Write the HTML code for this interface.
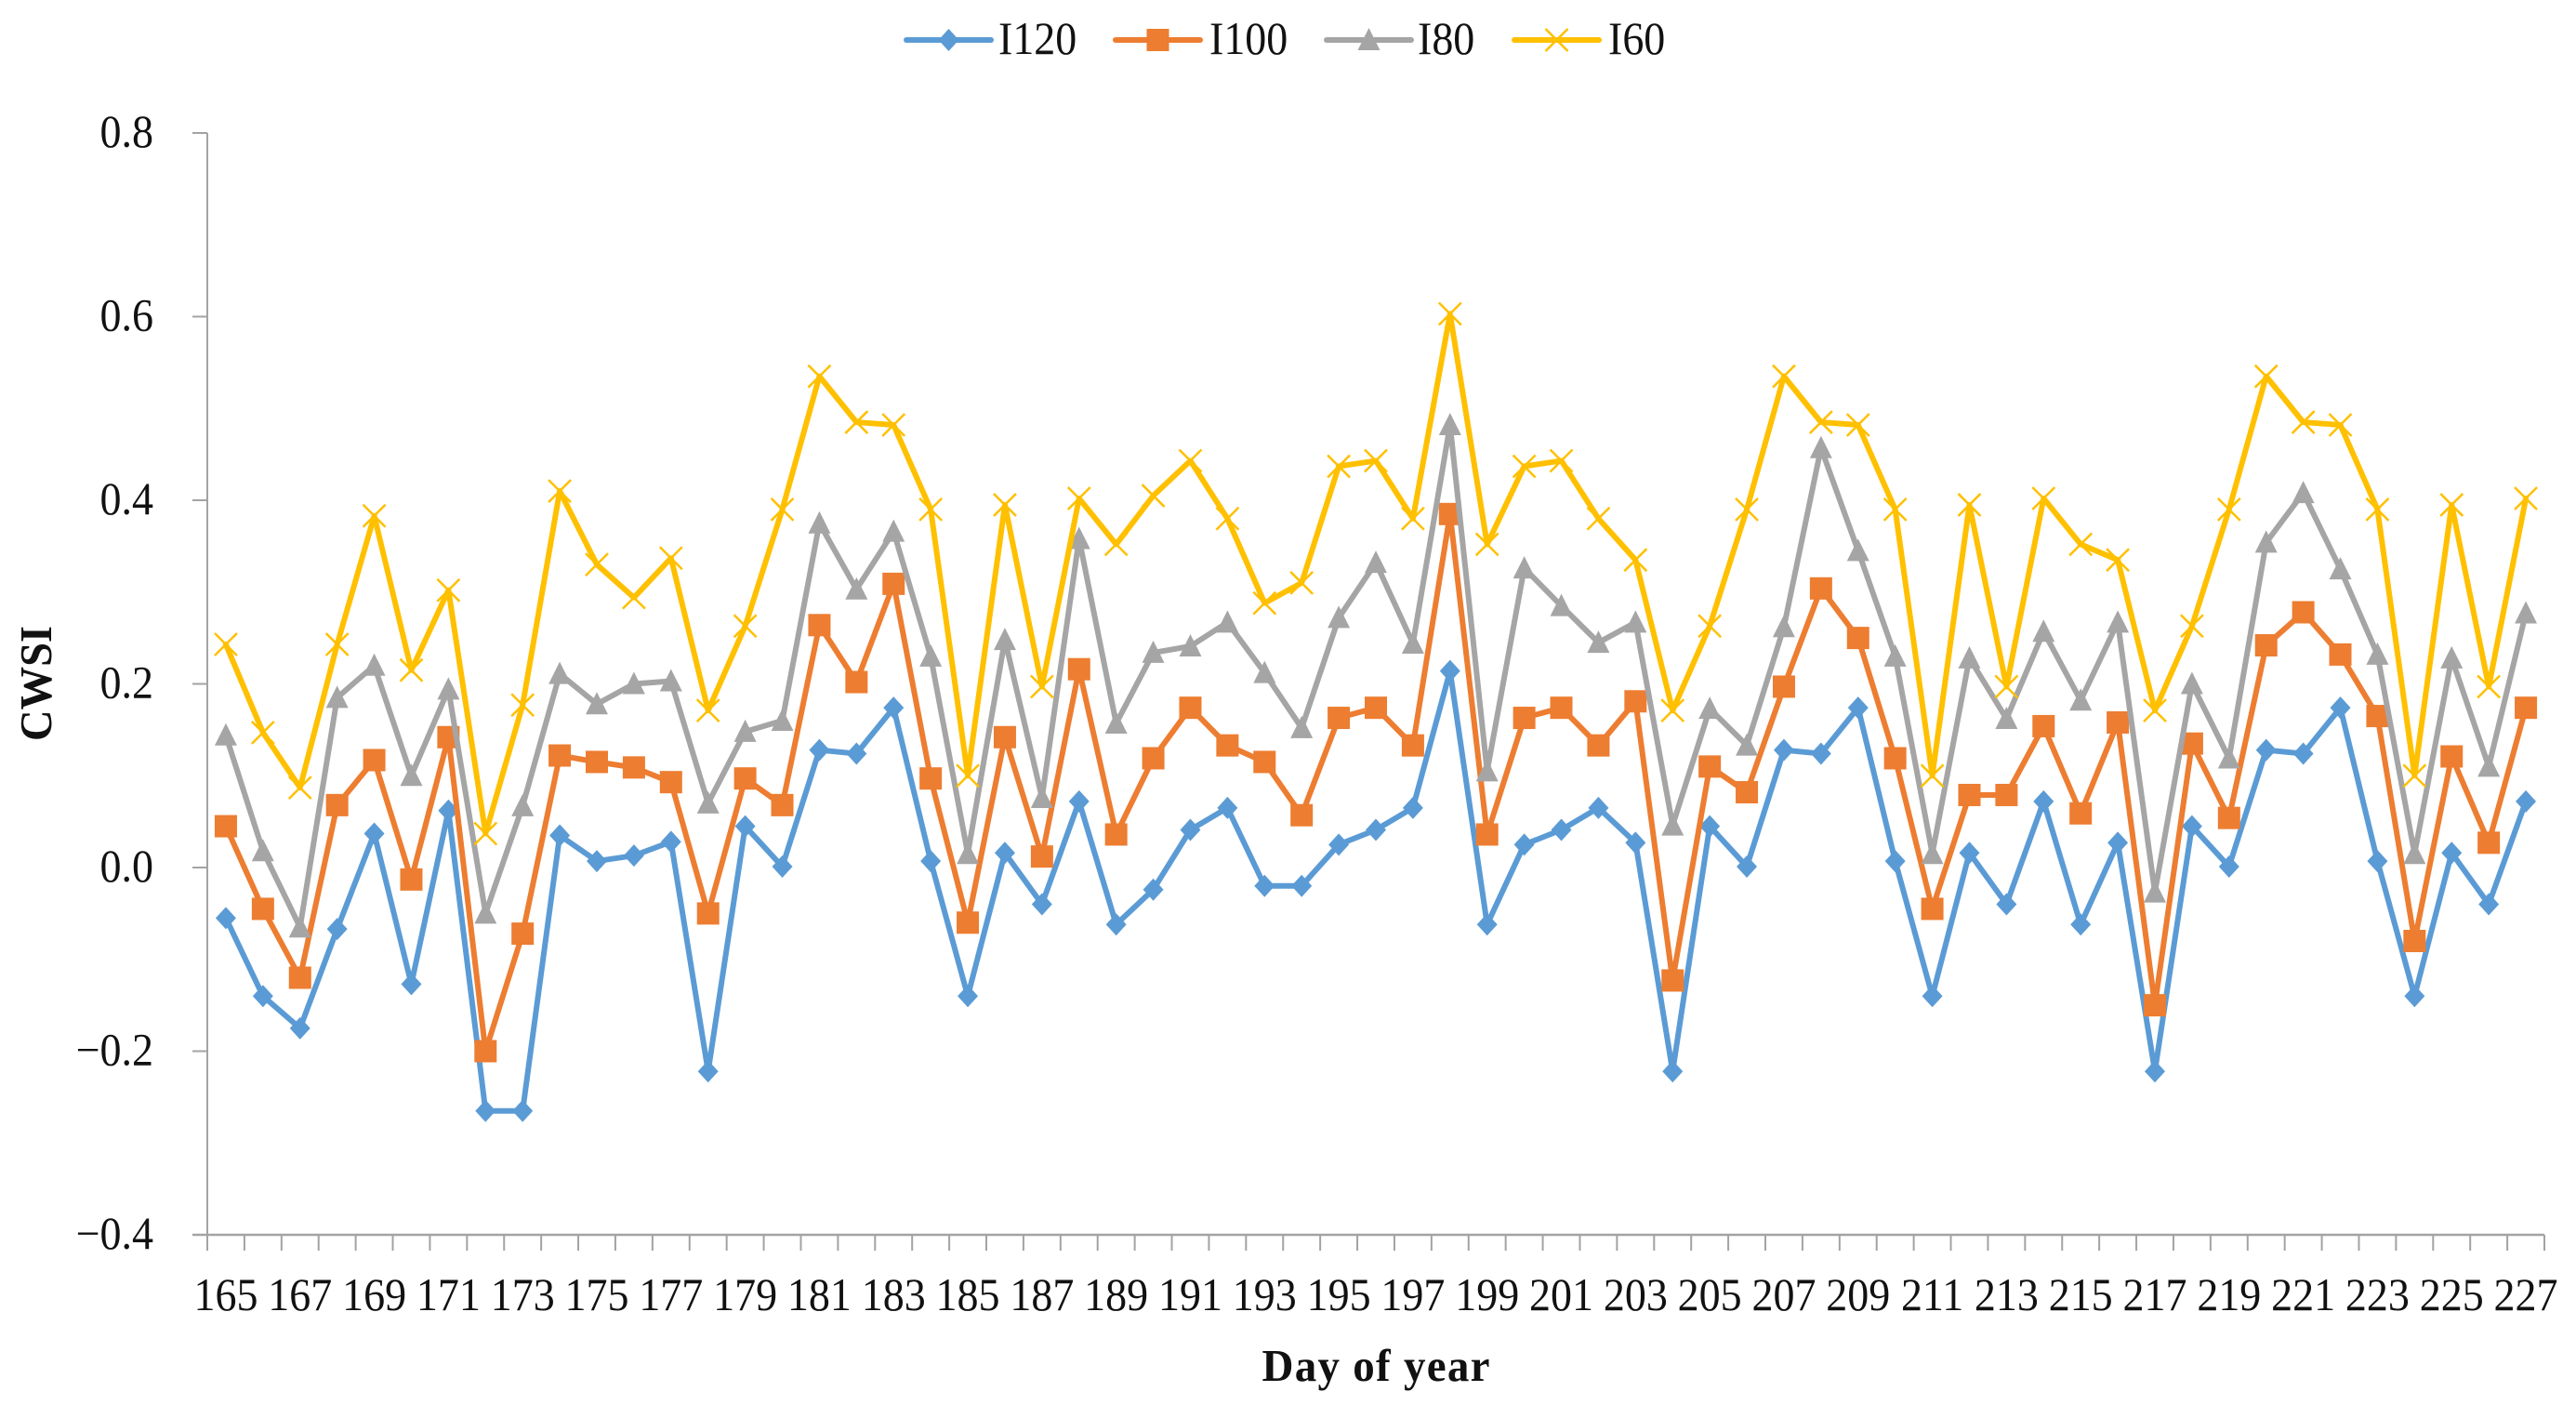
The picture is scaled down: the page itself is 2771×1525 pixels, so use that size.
<!DOCTYPE html>
<html lang="en">
<head>
<meta charset="utf-8">
<title>CWSI by day of year</title>
<style>
html,body{margin:0;padding:0;background:#fff;}
svg{display:block;}
text{font-family:"Liberation Serif",serif;fill:#111;font-size:46px;}
</style>
</head>
<body>
<svg id="chart" xmlns="http://www.w3.org/2000/svg" width="2771" height="1525" viewBox="0 0 2771 1525">
<rect width="2771" height="1525" fill="#ffffff"/>
<g id="axes"></g>
<g id="series"></g>
<text transform="translate(1480,1485) scale(1,1.03)" text-anchor="middle" textLength="245" lengthAdjust="spacing" style="font-size:47px;font-weight:bold">Day of year</text>
<text transform="translate(55,735) rotate(-90) scale(1,1.03)" text-anchor="middle" textLength="124" lengthAdjust="spacingAndGlyphs" style="font-size:47px;font-weight:bold">CWSI</text>
<g id="legend"></g>
</svg>
<script>
const days = [165,166,167,168,169,170,171,172,173,174,175,176,177,178,179,180,181,182,183,184,185,186,187,188,189,190,191,192,193,194,195,196,197,198,199,200,201,202,203,204,205,206,207,208,209,210,211,212,213,214,215,216,217,218,219,220,221,222,223,224,225,226,227];
const i120Values = [-0.055,-0.14,-0.175,-0.067,0.037,-0.127,0.062,-0.265,-0.265,0.035,0.007,0.013,0.028,-0.222,0.045,0.001,0.128,0.124,0.174,0.007,-0.14,0.016,-0.04,0.072,-0.062,-0.024,0.041,0.065,-0.02,-0.02,0.025,0.041,0.065,0.214,-0.062,0.025,0.041,0.065,0.027,-0.222,0.045,0.001,0.128,0.124,0.174,0.007,-0.14,0.016,-0.04,0.072,-0.062,0.027,-0.222,0.045,0.001,0.128,0.124,0.174,0.007,-0.14,0.016,-0.04,0.072];
const i100Values = [0.045,-0.045,-0.12,0.068,0.117,-0.013,0.142,-0.2,-0.072,0.122,0.115,0.109,0.093,-0.05,0.097,0.068,0.264,0.202,0.309,0.097,-0.06,0.142,0.012,0.216,0.036,0.119,0.174,0.133,0.115,0.057,0.163,0.174,0.133,0.385,0.036,0.163,0.174,0.133,0.181,-0.123,0.11,0.082,0.197,0.304,0.25,0.119,-0.045,0.079,0.079,0.154,0.059,0.158,-0.15,0.135,0.054,0.242,0.278,0.232,0.165,-0.08,0.121,0.027,0.174];
const i80Values = [0.144,0.018,-0.065,0.185,0.22,0.1,0.194,-0.05,0.067,0.211,0.178,0.2,0.203,0.07,0.148,0.16,0.375,0.303,0.366,0.23,0.015,0.248,0.076,0.358,0.157,0.234,0.241,0.267,0.212,0.152,0.272,0.332,0.244,0.482,0.105,0.326,0.285,0.245,0.267,0.046,0.173,0.133,0.262,0.457,0.345,0.23,0.015,0.228,0.162,0.257,0.182,0.267,-0.027,0.2,0.119,0.354,0.408,0.325,0.232,0.015,0.228,0.11,0.277];
const i60Values = [0.243,0.147,0.087,0.243,0.383,0.215,0.302,0.037,0.177,0.41,0.33,0.294,0.337,0.171,0.263,0.39,0.535,0.485,0.482,0.39,0.1,0.395,0.197,0.402,0.352,0.405,0.443,0.38,0.288,0.31,0.437,0.443,0.38,0.603,0.352,0.437,0.443,0.38,0.335,0.171,0.263,0.39,0.535,0.485,0.482,0.39,0.1,0.395,0.197,0.402,0.352,0.335,0.171,0.263,0.39,0.535,0.485,0.482,0.39,0.1,0.395,0.197,0.402];
const yTickValues = [0.8,0.6,0.4,0.2,0,-0.2,-0.4];
const yTickLabels = ["0.8","0.6","0.4","0.2","0.0","\u22120.2","\u22120.4"];
const xLabelStep = 2;

const NS = "http://www.w3.org/2000/svg";
const plotLeft = 223, plotRight = 2737, plotTop = 143, plotBottom = 1328;
const yMax = 0.8, yMin = -0.4;
const TEXT_STRETCH = 1.07;
const band = (plotRight - plotLeft) / days.length;
function xScale(i) { return plotLeft + band * (i + 0.5); }
function yScale(v) { return plotTop + (yMax - v) / (yMax - yMin) * (plotBottom - plotTop); }
function make(tag, attrs, parent) {
  const el = document.createElementNS(NS, tag);
  for (const k in attrs) el.setAttribute(k, attrs[k]);
  parent.appendChild(el);
  return el;
}
function stretched(x, y) { return `translate(${x},${y}) scale(1,${TEXT_STRETCH})`; }
const AXIS = "#a3a3a3";
const axes = document.getElementById("axes");
const seriesLayer = document.getElementById("series");
const legend = document.getElementById("legend");

const yLine = make("line", {x1: plotLeft, x2: plotLeft, y1: plotTop, y2: plotBottom, stroke: AXIS, "stroke-width": 2}, axes);


const xLine = make("line", {x1: plotLeft - 16, x2: plotRight, y1: plotBottom, y2: plotBottom, stroke: AXIS, "stroke-width": 2.5}, axes);



yTickValues.forEach((v, i) => {
  const y = yScale(v);
  const tick = make("line", {x1: plotLeft - 16, x2: plotLeft, y1: y, y2: y, stroke: AXIS, "stroke-width": 2}, axes);
  
  
  const label = make("text", {transform: stretched(165, y + 15), "text-anchor": "end"}, axes);
  
  
  label.textContent = yTickLabels[i];
});

for (let i = 0; i <= days.length; i++) {
  const x = plotLeft + band * i;
  const tick = make("line", {x1: x, x2: x, y1: plotBottom, y2: plotBottom + 17, stroke: AXIS, "stroke-width": 2}, axes);
  
  
}
days.forEach((d, i) => {
  if (i % xLabelStep !== 0) return;
  const label = make("text", {transform: stretched(xScale(i), 1409), "text-anchor": "middle"}, axes);
  
  
  label.textContent = d;
});

function drawMarker(kind, color, x, y, parent) {
  let m;
  if (kind === "diamond") {
    m = make("polygon", {points: `${x},${y-12} ${x+11},${y} ${x},${y+12} ${x-11},${y}`, fill: color}, parent);
  } else if (kind === "square") {
    m = make("rect", {x: x-12, y: y-12, width: 24, height: 24, fill: color}, parent);
  } else if (kind === "triangle") {
    m = make("polygon", {points: `${x},${y-13} ${x+12},${y+11} ${x-12},${y+11}`, fill: color}, parent);
  } else {
    m = make("path", {d: `M${x-12},${y-12}L${x+12},${y+12}M${x+12},${y-12}L${x-12},${y+12}`, stroke: color, "stroke-width": 2.5, fill: "none"}, parent);
  }
  return m;
}

function drawSeries(name, values, color, kind) {
  const g = make("g", {}, seriesLayer);
  
  
  const pts = values.map((v, i) => xScale(i).toFixed(2) + "," + yScale(v).toFixed(2)).join(" ");
  const line = make("polyline", {points: pts, fill: "none", stroke: color, "stroke-width": 6, "stroke-linejoin": "round", "stroke-linecap": "round"}, g);
  
  
  values.forEach((v, i) => {
    const m = drawMarker(kind, color, xScale(i), yScale(v), g);
    
    
  });
}
drawSeries("i120", i120Values, "#5b9bd5", "diamond");
drawSeries("i100", i100Values, "#ed7d31", "square");
drawSeries("i80", i80Values, "#a5a5a5", "triangle");
drawSeries("i60", i60Values, "#ffc000", "cross");

function drawLegendEntry(name, color, kind, x1, x2, textX) {
  const g = make("g", {}, legend);
  
  
  const ln = make("line", {x1: x1, x2: x2, y1: 43, y2: 43, stroke: color, "stroke-width": 6, "stroke-linecap": "round"}, g);
  
  
  const m = drawMarker(kind, color, (x1 + x2) / 2, 43, g);
  
  
  const t = make("text", {transform: stretched(textX, 58)}, g);
  
  
  t.textContent = name;
}
drawLegendEntry("I120", "#5b9bd5", "diamond", 975, 1066, 1074);
drawLegendEntry("I100", "#ed7d31", "square", 1200, 1291, 1301);
drawLegendEntry("I80", "#a5a5a5", "triangle", 1427, 1518, 1525);
drawLegendEntry("I60", "#ffc000", "cross", 1629, 1720, 1730);
</script>
</body>
</html>
